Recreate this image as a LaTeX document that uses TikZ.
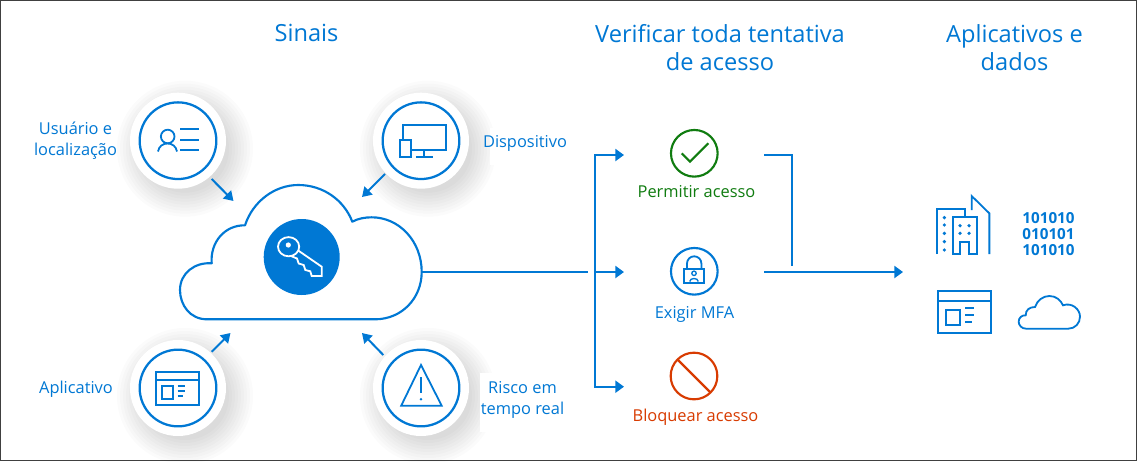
\documentclass[tikz,border=0pt]{standalone}
\usepackage{fontspec}
\setmainfont{Open Sans}
\usetikzlibrary{arrows.meta}
\definecolor{azure}{HTML}{0078D4}
\definecolor{okgreen}{HTML}{107C10}
\definecolor{blockred}{HTML}{D83B01}
\tikzset{
  ln/.style={draw=azure,line width=1.5pt,line join=round},
  thin ln/.style={draw=azure,line width=1.35pt,line join=miter},
  ring/.style={circle,draw=azure,line width=1.7pt,minimum size=57.5pt,inner sep=0pt,fill=white},
  smallring/.style={circle,line width=1.6pt,minimum size=35pt,inner sep=0pt},
  halo/.style={circle,fill=white,minimum size=72pt,inner sep=0pt},
  flow/.style={draw=azure,line width=1.6pt,-{Triangle[length=6.5pt,width=9pt]}},
  plainflow/.style={draw=azure,line width=1.6pt},
  inarrow/.style={draw=azure,line width=1.5pt,-{Triangle[length=7pt,width=8.5pt]}},
  title/.style={text=azure,font=\fontsize{17.7}{21.3}\selectfont,align=center},
  lab/.style={text=azure,font=\fontsize{12.3}{15.5}\selectfont,align=center},
  declab/.style={font=\fontsize{12.3}{14}\selectfont},
}
\begin{document}
\begin{tikzpicture}[x=0.75pt,y=-0.75pt]
\useasboundingbox (0,0) rectangle (1137,461);
\fill[white] (0,0) rectangle (1137,461);
\draw[black!75,line width=1.1pt] (0.6,0.6) rectangle (1136.4,460.4);

% titles
\node[title] (tSinais) at (306.5,33) {Sinais};
\node[title] (tVerif) at (720,47.5) {Verificar toda tentativa\\de acesso};
\node[title] (tApps) at (1014.5,47.5) {Aplicativos e\\dados};

% soft shadows and halos
\foreach \cx/\cy in {178/140.7,421/140.7,178/388,421/388}{
  \foreach \r in {68,65,62,59,56,53,50,47,44}{
    \fill[black,opacity=0.017] (\cx+7,\cy+8) circle[radius=\r];
  }
}
\fill[white] (490,128) rectangle (580,165);
\fill[white] (480,373) rectangle (580,432);
\node[halo] (hUser) at (178,140.7) {};
\node[halo] (hDev) at (421,140.7) {};
\node[halo] (hApp) at (178,388) {};
\node[halo] (hRisk) at (421,388) {};
\node[ring] (user) at (178,140.7) {};
\node[ring] (dev) at (421,140.7) {};
\node[ring] (app) at (178,388) {};
\node[ring] (risk) at (421,388) {};

% user icon
\draw[thin ln] (167.7,136.5) circle[radius=6.8];
\draw[thin ln] (158,151.5) .. controls (159,146) and (163,143.5) .. (167.5,143.5) .. controls (172,143.5) and (176,146) .. (177,151.5);
\draw[thin ln] (180,129)--(198.5,129) (180,140)--(198.5,140) (180,150.3)--(198.5,150.3);

% device icon
\draw[thin ln] (402.7,140)--(402.7,125.2)--(445.7,125.2)--(445.7,150)--(410.7,150);
\draw[thin ln] (399.8,140.2) rectangle (410.7,156.7);
\draw[thin ln] (424,150)--(424,156.7) (415.8,156.7)--(432.8,156.7);

% app icon
\draw[thin ln] (156,372) rectangle (198.7,404.7);
\draw[thin ln] (156,380)--(198.7,380);
\draw[thin ln] (161.7,386) rectangle (173.3,399.3);
\draw[thin ln] (177.7,386)--(185.3,386) (177.7,391)--(185.3,391) (177.7,396)--(182.7,396);

% warning icon
\draw[thin ln] (421,365)--(441.7,405.7)--(401.2,405.7)--cycle;
\draw[thin ln] (421,377.3)--(421,393.3);
\fill[azure] (421,399.3) circle[radius=1.4];

% cloud
\node[coordinate] (cloudE) at (421.7,272) {};
\draw[ln,fill=white,line width=1.6pt] (207,319.3)
  .. controls (190,319.3) and (180,305) .. (180,290)
  .. controls (180,273) and (195,262) .. (211.7,263.3)
  .. controls (210,243) and (224,225) .. (245,225.3)
  .. controls (253,201) and (275,185) .. (298.3,185)
  .. controls (323,185) and (344,200) .. (352.3,221.7)
  .. controls (358,218.5) and (365,217.3) .. (371.7,217.3)
  .. controls (399,217.3) and (421.7,241) .. (421.7,272)
  .. controls (421.7,298) and (402,319.3) .. (375,319.3)
  -- cycle;

% key badge
\node[circle,fill=azure,minimum size=57pt,inner sep=0pt] (keyb) at (301.7,257) {};
\draw[white,line width=1.35pt,line join=miter,fill=azure] (296,249)--(321.7,266.7)--(321.7,276)--(311.7,276)--(310.3,271.3)--(305.3,270)--(303.7,265)--(298.7,263.5)--(297,258.5)--(291,256)--cycle;
\draw[white,line width=1.35pt,fill=azure] (288.6,246.7) ellipse[x radius=10.6,y radius=9.6];
\fill[white] (288.3,245) circle[radius=2.6];

% arrows into the cloud
\node[coordinate] (a1) at (211.7,179) {};
\node[coordinate] (a2) at (233.5,201) {};
\node[coordinate] (b1) at (385,174) {};
\node[coordinate] (b2) at (362,197) {};
\node[coordinate] (c1) at (211.7,351.7) {};
\node[coordinate] (c2) at (230.5,333) {};
\node[coordinate] (d1) at (383.3,355) {};
\node[coordinate] (d2) at (362,333) {};
\draw[inarrow] (a1)--(a2);
\draw[inarrow] (b1)--(b2);
\draw[inarrow] (c1)--(c2);
\draw[inarrow] (d1)--(d2);

% labels
\node[lab] (lUser) at (75.5,141) {Usuário e\\localização};
\node[lab] (lDev) at (525,143) {Dispositivo};
\node[lab] (lApp) at (76,389) {Aplicativo};
\node[lab] (lRisk) at (522.5,400) {Risco em\\tempo real};

% decisions
\node[smallring,draw=okgreen] (allow) at (694.3,153.3) {};
\draw[okgreen,line width=1.6pt] (681.7,153.3)--(690,161.7)--(708.3,143.3);
\node[declab,text=okgreen] (lAllow) at (696.5,191.5) {Permitir acesso};

\node[smallring,draw=azure] (mfa) at (694.3,271.3) {};
\draw[azure,line width=1.35pt,fill=white] (684,269.3) rectangle (704,282.7);
\draw[azure,line width=1.35pt] (687,269.3)--(687,263.5) arc[start angle=180,end angle=360,radius=7.2]--(701.4,269.3);
\draw[azure,line width=1pt] (694,273.3) circle[radius=2.2];
\draw[azure,line width=1pt] (689.7,281.5) .. controls (690,277.5) and (698,277.5) .. (698.3,281.5);
\node[declab,text=azure] (lMfa) at (694.5,314) {Exigir MFA};

\node[smallring,draw=blockred] (block) at (694,376) {};
\draw[blockred,line width=1.6pt] (677.5,359.5)--(710.5,392.5);
\node[declab,text=blockred] (lBlock) at (695.5,417) {Bloquear acesso};

% flows
\node[coordinate] (split) at (595,272) {};
\node[coordinate] (splitT) at (595,155) {};
\node[coordinate] (splitB) at (595,386.7) {};
\node[coordinate] (gapEnd) at (588,272) {};
\node[coordinate] (aT) at (624,155) {};
\node[coordinate] (aM) at (624,272) {};
\node[coordinate] (aB) at (624,386.7) {};
\node[coordinate] (oT) at (764,155) {};
\node[coordinate] (oC) at (792,155) {};
\node[coordinate] (oD) at (792,266) {};
\node[coordinate] (oM) at (764,272) {};
\node[coordinate] (oE) at (903,272) {};
\draw[plainflow] (cloudE)--(gapEnd);
\draw[plainflow,line cap=rect] (splitT)--(splitB);
\draw[flow] (splitT)--(aT);
\draw[flow] (split)--(aM);
\draw[flow] (splitB)--(aB);
\draw[plainflow,line join=miter] (oT)--(oC)--(oD);
\draw[flow] (oM)--(oE);

% buildings
\begin{scope}[shift={(920,180)},x=0.25pt,y=-0.25pt]
  \draw[thin ln] (50,222)--(50,88)--(135,88)--(135,110);
  \draw[thin ln] (98,222)--(98,112)--(170,112)--(170,222)--(148,222)--(148,185)--(120,185)--(120,222)--cycle;
  \draw[thin ln] (155,90)--(155,48)--(208,100)--(208,222);
  \foreach \px/\py in {73/113,73/135,73/160,73/185,73/210,120/137,147/137,120/160,147/160}{
    \fill[azure] (\px,\py) circle[radius=5.5];
  }
  % small app icon
  \draw[thin ln] (55,333) rectangle (213,458);
  \draw[thin ln] (55,362)--(213,362);
  \draw[thin ln] (78,390) rectangle (120,435);
  \draw[thin ln] (135,385)--(163,385) (135,405)--(163,405) (135,426)--(155,426);
  % small cloud
  \draw[thin ln] (318,446)
    .. controls (305,446) and (296,436) .. (296,425)
    .. controls (296,413) and (306,405) .. (317,406)
    .. controls (317,390) and (328,381) .. (345,381)
    .. controls (352,360) and (370,348) .. (388,348)
    .. controls (408,348) and (422,360) .. (429,376)
    .. controls (456,366) and (480,388) .. (480,410)
    .. controls (480,430) and (465,446) .. (445,446)
    -- cycle;
\end{scope}
\node[text=azure,font=\fontsize{11.4}{12}\bfseries\selectfont,align=center] (bits) at (1048.5,234) {101010\\010101\\101010};
\end{tikzpicture}
\end{document}
